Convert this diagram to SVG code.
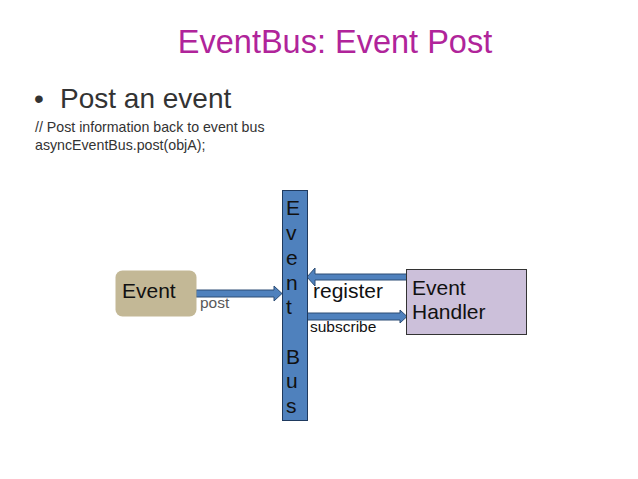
<svg xmlns="http://www.w3.org/2000/svg" width="638" height="479" viewBox="0 0 638 479">
<style>
text{font-family:"Liberation Sans",Arial,sans-serif;}
.arrow{fill:#4f81bd;stroke:#2c4d75;stroke-width:1;}
.lbl{font-size:21px;fill:#111;}
.small{font-size:14.2px;fill:#333;}
.tag{font-size:15.5px;}
</style>
<rect width="638" height="479" fill="#ffffff"/>
<text x="335" y="53" text-anchor="middle" font-size="32.5" fill="#b0249a">EventBus: Event Post</text>
<text x="34" y="108" font-size="28" fill="#333">•</text>
<text x="60" y="108" font-size="28" fill="#333">Post an event</text>
<text x="35" y="132" class="small">// Post information back to event bus</text>
<text x="35" y="150" class="small">asyncEventBus.post(objA);</text>
<g id="connectors">
<path class="arrow" d="M196,290 H274 V286 L282,293.5 L274,301 V297 H196 Z"/>
<path class="arrow" d="M407,274 H315 V268 L307,277 L315,286 V280 H407 Z"/>
<path class="arrow" d="M307,313 H400 V310 L407,316.5 L400,323 V320 H307 Z"/>
<text x="200" y="308" class="tag" fill="#595959">post</text>
<text x="313" y="298" class="lbl">register</text>
<text x="310" y="332" class="tag" fill="#111">subscribe</text>
</g>
<g id="event">
<rect x="115.5" y="270.5" width="81" height="46" rx="7" fill="#c3b896"/>
<text x="122" y="298" class="lbl">Event</text>
</g>
<g id="eventbus">
<rect x="282.5" y="190.5" width="25" height="230" fill="#4f81bd" stroke="#1f3a5f" stroke-width="1"/>
<g class="lbl">
<text x="286" y="215">E</text>
<text x="286" y="240">v</text>
<text x="286" y="265">e</text>
<text x="286" y="290">n</text>
<text x="286" y="314">t</text>
<text x="286" y="364">B</text>
<text x="286" y="388">u</text>
<text x="286" y="413">s</text>
</g>
</g>
<g id="handler">
<rect x="406.5" y="269.5" width="120" height="65" fill="#ccc0da" stroke="#333" stroke-width="1"/>
<text x="412" y="295" class="lbl">Event</text>
<text x="412" y="319" class="lbl">Handler</text>
</g>
</svg>
